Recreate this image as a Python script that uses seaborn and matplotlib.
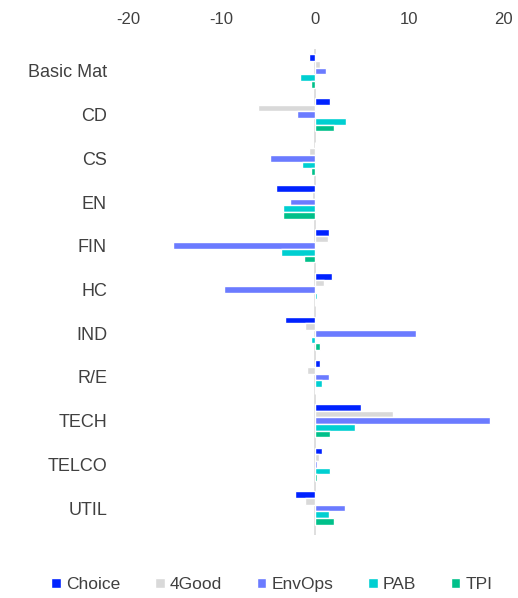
import matplotlib
matplotlib.use("Agg")
import matplotlib.pyplot as plt
import seaborn as sns
import pandas as pd

sectors = ["Basic Mat", "CD", "CS", "EN", "FIN", "HC", "IND", "R/E", "TECH", "TELCO", "UTIL"]
series_names = ["Choice", "4Good", "EnvOps", "PAB", "TPI"]

choice = [-0.7, 1.6, 0.0, -4.2, 1.4, 1.8, -3.3, 0.5, 4.9, 0.7, -2.2]
four_good = [0.5, -6.1, -0.7, -0.4, 1.3, 0.9, -1.1, -0.9, 8.3, 0.4, -1.1]
env_ops = [1.1, -2.0, -4.8, -2.7, -15.2, -9.8, 10.7, 1.4, 18.6, 0.2, 3.1]
pab = [-1.6, 3.3, -1.4, -3.5, -3.7, 0.2, -0.5, 0.7, 4.2, 1.6, 1.4]
tpi = [-0.5, 2.0, -0.5, -3.5, -1.2, 0.0, 0.5, 0.0, 1.6, 0.2, 2.0]

colors = ["#0022FF", "#D9D9D9", "#6B7BFF", "#00CFD1", "#00C08A"]

series_values = [choice, four_good, env_ops, pab, tpi]
records = []
for name, vals in zip(series_names, series_values):
    for sec, v in zip(sectors, vals):
        records.append({"sector": sec, "series": name, "value": v})
df = pd.DataFrame(records)

sns.set_theme(style="white")
plt.rcParams["font.family"] = ["Liberation Sans", "DejaVu Sans"]
plt.rcParams["axes.unicode_minus"] = False
text_color = "#404040"

fig = plt.figure(figsize=(5.18, 5.98), dpi=100)
ax = fig.add_axes([0.247, 0.105, 0.724, 0.813])

sns.barplot(data=df, y="sector", x="value", hue="series", order=sectors,
            hue_order=series_names, palette=colors, orient="h", width=0.76,
            saturation=1, ax=ax, legend=True)

ax.axvline(0, color="#D9D9D9", lw=1.2, zorder=0)
ax.set_xlim(-20, 20)
ax.set_ylim(10.62, -0.5)
ax.set_xticks([-20, -10, 0, 10, 20])
ax.xaxis.tick_top()
ax.tick_params(axis="x", length=0, pad=16, labelsize=12, labelcolor=text_color)
ax.tick_params(axis="y", length=0, pad=15, labelsize=13, labelcolor=text_color)
ax.set_xlabel("")
ax.set_ylabel("")
for s in ax.spines.values():
    s.set_visible(False)

handles, labels = ax.get_legend_handles_labels()
ax.get_legend().remove()
fig.legend(handles, labels, loc="center", bbox_to_anchor=(0.525, 0.022), ncol=5,
           frameon=False, fontsize=12.5, handlelength=0.55, handleheight=0.55,
           handletextpad=0.3, columnspacing=2.0, labelcolor=text_color)

fig.savefig("out.png", dpi=100)
